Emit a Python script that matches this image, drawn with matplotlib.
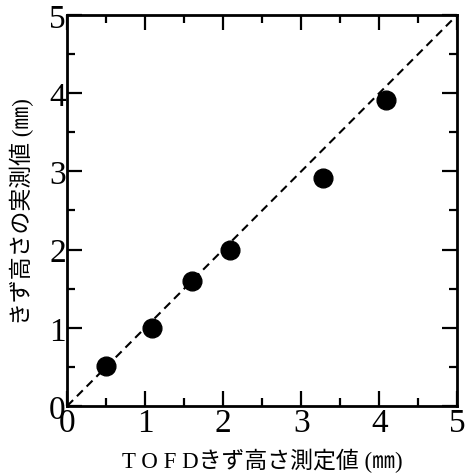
import numpy as np
import matplotlib
matplotlib.use('Agg')
import matplotlib.pyplot as plt
from matplotlib.ticker import MultipleLocator

# TOFD measured vs actual flaw height (mm)
tofd = [0.5, 1.09, 1.6, 2.085, 3.28, 4.085]
actual = [0.51, 1.0, 1.6, 2.0, 2.91, 3.915]
ref_line = [0, 5]

fig = plt.figure(figsize=(4.65, 4.77), dpi=100)
ax = fig.add_axes([0.1445, 0.1468, 0.8387, 0.8197])

ax.plot(ref_line, ref_line, 'k--', lw=1.5, dashes=(4, 2.6))
ax.plot(tofd, actual, 'o', color='k', ms=13.5)

ax.set_xlim(0, 5)
ax.set_ylim(0, 5)
ax.xaxis.set_major_locator(MultipleLocator(1))
ax.yaxis.set_major_locator(MultipleLocator(1))
ax.xaxis.set_minor_locator(MultipleLocator(0.5))
ax.yaxis.set_minor_locator(MultipleLocator(0.5))

for s in ax.spines.values():
    s.set_linewidth(2)
ax.tick_params(which='both', direction='in', top=True, right=True, width=1.6)
ax.tick_params(which='major', length=11, pad=1)
ax.tick_params(which='minor', length=5.5)
for lab in ax.get_xticklabels() + ax.get_yticklabels():
    lab.set_family('Liberation Serif')
    lab.set_fontsize(24)

jp = ['Liberation Serif', 'Noto Sans CJK JP']
ax.set_xlabel('T O F Dきず高さ測定値 (㎜)', family=jp, fontsize=16.5, labelpad=7)
ax.set_ylabel('きず高さの実測値 (㎜)', family=jp, fontsize=16.5, labelpad=11)

fig.savefig('out.png', dpi=100)
